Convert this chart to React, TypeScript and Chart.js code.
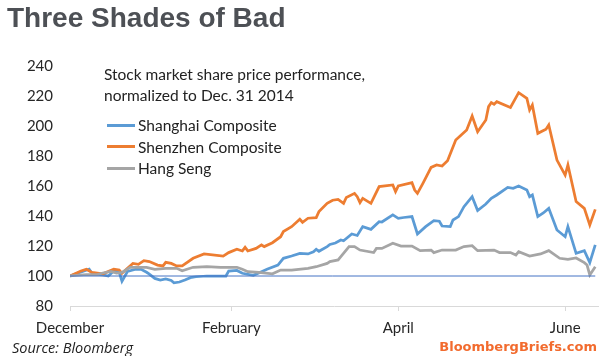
import React, { useEffect, useRef } from 'react';
import { Chart, registerables } from 'chart.js';

Chart.register(...registerables);

// Days since Dec. 31 2014 and index values (Dec. 31 2014 = 100)
const shanghaiDays = [0, 3, 7, 8, 10, 12, 14, 16, 18, 19, 21, 24, 26, 28, 29, 31, 33, 35, 37, 38, 40, 42, 44, 46, 50, 55, 57, 58, 61, 63, 67, 69, 72, 76, 78, 81, 84, 87, 89, 90, 91, 94, 95, 97, 99, 100, 103, 105, 107, 110, 113, 114, 118, 120, 122, 125, 127, 130, 133, 135, 136, 139, 140, 142, 144, 147, 149, 152, 154, 156, 160, 162, 164, 167, 168, 169, 171, 173, 175, 178, 181, 182, 185, 188, 190, 192];
const shanghaiValues = [100, 102, 104.5, 102, 101, 100.7, 100, 103.3, 102.5, 96.5, 103, 104.5, 104.5, 102.5, 101.3, 98.4, 97.3, 98, 97, 95.5, 96, 97.3, 98.9, 99.5, 100, 100, 100, 103.3, 103.7, 101.8, 100.5, 102, 104.5, 107.3, 111.8, 113.3, 115.1, 114.7, 116.2, 117.8, 116.5, 119.6, 121, 122, 124, 123.5, 128, 127, 132.9, 131.1, 136.2, 136, 140.7, 138.4, 139, 139.6, 128, 132.9, 136.9, 136.5, 133.3, 132.9, 137.3, 139.6, 146.2, 152.9, 143.6, 148, 151.8, 154, 159.1, 158.5, 160, 157.3, 152.9, 154, 139.6, 142, 145.1, 130.7, 126.2, 132.9, 115.1, 116.9, 108.9, 120.7];

const shenzhenDays = [0, 4, 6, 8, 12, 16, 18, 19, 21, 23, 25, 27, 29, 32, 34, 35, 37, 39, 41, 45, 49, 56, 58, 61, 63, 64, 65, 68, 70, 71, 74, 77, 78, 81, 84, 85, 87, 90, 91, 94, 96, 98, 100, 101, 104, 105, 106, 107, 110, 113, 118, 119, 120, 125, 126, 127, 129, 132, 134, 136, 138, 141, 143, 145, 147, 149, 152, 153, 154, 155, 156, 161, 164, 167, 168, 169, 171, 174, 175, 178, 181, 182, 185, 188, 190, 192];
const shenzhenValues = [100, 103.3, 104.5, 102.4, 101.5, 104.5, 104, 101.8, 105.1, 108.4, 107.8, 110.2, 109.6, 107.3, 106.7, 109.1, 108.4, 106.7, 106.7, 111.8, 114.7, 113.3, 115.6, 117.8, 116.7, 119.1, 116.7, 118.4, 120.7, 119.6, 122.2, 126.2, 129.6, 132.9, 137.8, 135.8, 138.5, 138.9, 142.9, 148.4, 150.5, 151.1, 148.4, 152.4, 155.1, 152.9, 148.9, 151.8, 148.4, 159.6, 160.7, 156.2, 160, 162.2, 157.3, 155.1, 161.8, 172.4, 174, 173.3, 176.9, 190.7, 194, 197.3, 206.7, 196.2, 204, 212.9, 215.6, 214.5, 216.2, 212.4, 222.2, 218.4, 210.7, 214, 195.1, 197.8, 200.7, 177.3, 167.3, 174, 149.6, 145.1, 134, 144.4];

const hangSengDays = [0, 6, 10, 12, 15, 17, 19, 22, 26, 28, 31, 35, 39, 41, 45, 50, 55, 61, 63, 65, 69, 74, 77, 81, 87, 90, 94, 95, 98, 99, 102, 104, 106, 111, 112, 114, 118, 121, 125, 128, 132, 133, 136, 141, 144, 147, 149, 155, 157, 161, 163, 164, 168, 172, 175, 179, 182, 185, 188, 189, 190, 192];
const hangSengValues = [100, 101, 101, 102, 103, 102, 102.4, 105.8, 105.8, 105.8, 104.5, 105.1, 105.1, 103.5, 105.8, 106.2, 105.8, 105.8, 104.5, 102.9, 102.4, 101.5, 104, 104, 105.1, 106.2, 108.4, 109.6, 110.7, 112.9, 119.6, 119.6, 117.3, 115.6, 118.4, 118.4, 121.8, 120, 120, 116.9, 117.3, 115.6, 117.3, 117.3, 119.6, 120.2, 116.9, 117.3, 115.6, 115.6, 114, 116.2, 113.3, 114.7, 116.9, 111.8, 111.1, 112, 108.9, 107.3, 100.7, 106.2];

const baselineDays = [0, 192];
const baselineValues = [100, 100];

const tickDays = [0, 59, 120, 181];
const tickLabels = ['December', 'February', 'April', 'June'];
const yMin = 80;
const yMax = 240;
const yStep = 20;

const seriesNames = ['Shanghai Composite', 'Shenzhen Composite', 'Hang Seng'];
const seriesColors = ['#5b9bd5', '#ed7d31', '#a5a5a5'];

function toPoints(days: number[], values: number[]) {
  return days.map((d, i) => ({ x: d, y: values[i] }));
}

export default function App() {
  const canvasRef = useRef<HTMLCanvasElement | null>(null);

  useEffect(() => {
    const canvas = canvasRef.current;
    if (!canvas) return;
    const tickFont = { family: 'Lato, "Open Sans", sans-serif', size: 15 };
    const chart = new Chart(canvas, {
      type: 'line',
      data: {
        datasets: [
          { label: seriesNames[0], data: toPoints(shanghaiDays, shanghaiValues), borderColor: seriesColors[0], borderWidth: 2.75, pointRadius: 0, tension: 0, order: 3 },
          { label: seriesNames[1], data: toPoints(shenzhenDays, shenzhenValues), borderColor: seriesColors[1], borderWidth: 2.75, pointRadius: 0, tension: 0, order: 2 },
          { label: seriesNames[2], data: toPoints(hangSengDays, hangSengValues), borderColor: seriesColors[2], borderWidth: 2.75, pointRadius: 0, tension: 0, order: 1 },
          { label: 'baseline', data: toPoints(baselineDays, baselineValues), borderColor: '#4472c4', borderWidth: 1, pointRadius: 0, tension: 0, order: 0 },
        ],
      },
      options: {
        responsive: false,
        animation: false,
        devicePixelRatio: 1,
        layout: { padding: { left: 0, top: 66, right: 6, bottom: 0 } },
        plugins: { legend: { display: false }, tooltip: { enabled: false }, title: { display: false } },
        scales: {
          x: {
            type: 'linear',
            min: 0,
            max: 193,
            afterBuildTicks: (s: any) => {
              s.ticks = tickDays.map((v) => ({ value: v }));
            },
            afterFit: (s: any) => {
              s.height = 50;
            },
            ticks: {
              autoSkip: false,
              maxRotation: 0,
              padding: 8,
              color: '#262626',
              font: tickFont,
              callback: (v: any) => {
                const i = tickDays.indexOf(Number(v));
                return i >= 0 ? tickLabels[i] : '';
              },
            },
            grid: { display: true, drawOnChartArea: false, drawTicks: true, tickLength: 5, color: '#d9d9d9' },
            border: { display: true, color: '#d9d9d9' },
          },
          y: {
            min: yMin,
            max: yMax,
            afterFit: (s: any) => {
              s.width = 70;
            },
            ticks: { stepSize: yStep, padding: 17, color: '#262626', font: tickFont },
            grid: { display: false, drawTicks: false },
            border: { display: false },
          },
        },
      },
    });
    return () => chart.destroy();
  }, []);

  const textFont = 'Lato, "Open Sans", sans-serif';

  return (
    <div style={{ position: 'fixed', left: 0, top: 0, width: 604, height: 356, background: '#fff', overflow: 'hidden' }}>
      <canvas ref={canvasRef} width={604} height={356} style={{ position: 'absolute', left: 0, top: 0, width: 604, height: 356 }} />
      <div style={{ position: 'absolute', left: 7, top: 4, font: 'bold 28px "Liberation Sans", Arial, sans-serif', lineHeight: '28px', color: '#4d5055', whiteSpace: 'nowrap' }}>
        Three Shades of Bad
      </div>
      <div style={{ position: 'absolute', left: 104, top: 64, fontFamily: textFont, fontSize: 15.5, lineHeight: '21px', color: '#222', whiteSpace: 'nowrap' }}>
        Stock market share price performance,
        <br />
        normalized to Dec. 31 2014
      </div>
      {seriesNames.map((name, i) => (
        <div key={name} style={{ position: 'absolute', left: 107, top: 115 + i * 21.5, height: 20, display: 'flex', alignItems: 'center', whiteSpace: 'nowrap' }}>
          <span style={{ display: 'inline-block', width: 28, height: 3, background: seriesColors[i] }} />
          <span style={{ marginLeft: 3, fontFamily: textFont, fontSize: 15.5, lineHeight: '20px', color: '#222' }}>{name}</span>
        </div>
      ))}
      <div style={{ position: 'absolute', left: 12, top: 338, fontFamily: '"Open Sans", Lato, sans-serif', fontStyle: 'italic', fontSize: 14.5, lineHeight: '20px', color: '#222', whiteSpace: 'nowrap' }}>
        Source: Bloomberg
      </div>
      <div style={{ position: 'absolute', right: 7, top: 337, fontFamily: '"DejaVu Sans", sans-serif', fontWeight: 'bold', fontSize: 13, lineHeight: '20px', color: '#f26b2e', whiteSpace: 'nowrap' }}>
        BloombergBriefs.com
      </div>
    </div>
  );
}
